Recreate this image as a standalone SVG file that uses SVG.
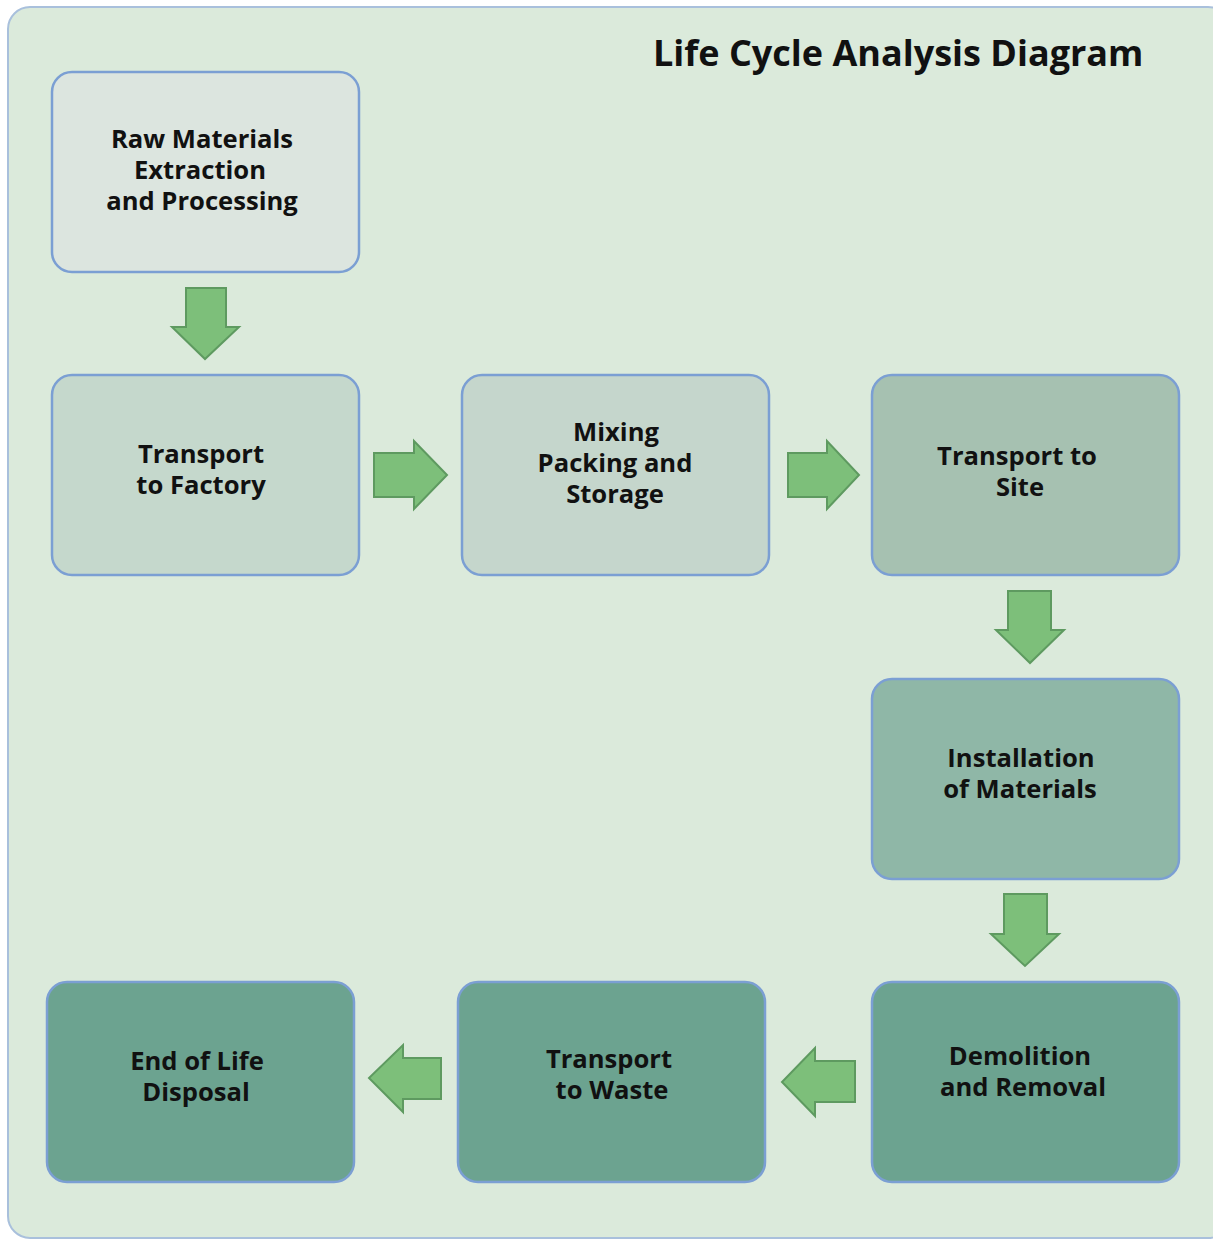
<svg xmlns="http://www.w3.org/2000/svg" width="1213" height="1240" viewBox="0 0 1213 1240">
<style>
.node rect{stroke:#7b9fd3;stroke-width:2.5}
.lbl{font-family:"Open Sans","Liberation Sans",sans-serif;font-weight:700;font-size:25.6px;fill:#111;text-anchor:middle}
.title{font-family:"Open Sans","Liberation Sans",sans-serif;font-weight:700;font-size:36px;fill:#111}
.arr{fill:#7dbf7a;stroke:#5e9a60;stroke-width:2;stroke-linejoin:miter}
</style>
<rect x="8" y="7" width="1222" height="1231" rx="22" fill="#dbeadb" stroke="#a9c0dc" stroke-width="2"/>
<text class="title" x="653" y="66">Life Cycle Analysis Diagram</text>
<g id="raw" class="node"><rect x="52" y="72" width="307" height="200" rx="20" fill="#dce5df"/>
<text class="lbl" x="202" y="148">Raw Materials</text><text class="lbl" x="200" y="179">Extraction</text><text class="lbl" x="202" y="210">and Processing</text></g>
<g id="tfactory" class="node"><rect x="52" y="375" width="307" height="200" rx="20" fill="#c5d8cc"/>
<text class="lbl" x="201" y="463">Transport</text><text class="lbl" x="201" y="494">to Factory</text></g>
<g id="mixing" class="node"><rect x="462" y="375" width="307" height="200" rx="20" fill="#c5d6cc"/>
<text class="lbl" x="616" y="441">Mixing</text><text class="lbl" x="615" y="472">Packing and</text><text class="lbl" x="615" y="503">Storage</text></g>
<g id="tsite" class="node"><rect x="872" y="375" width="307" height="200" rx="20" fill="#a6c1b1"/>
<text class="lbl" x="1017" y="465">Transport to</text><text class="lbl" x="1020" y="496">Site</text></g>
<g id="install" class="node"><rect x="872" y="679" width="307" height="200" rx="20" fill="#8fb7a7"/>
<text class="lbl" x="1021" y="767">Installation</text><text class="lbl" x="1020" y="798">of Materials</text></g>
<g id="demol" class="node"><rect x="872" y="982" width="307" height="200" rx="20" fill="#6ca390"/>
<text class="lbl" x="1020" y="1065">Demolition</text><text class="lbl" x="1023" y="1096">and Removal</text></g>
<g id="twaste" class="node"><rect x="458" y="982" width="307" height="200" rx="20" fill="#6ca390"/>
<text class="lbl" x="609" y="1068">Transport</text><text class="lbl" x="612" y="1099">to Waste</text></g>
<g id="eol" class="node"><rect x="47" y="982" width="307" height="200" rx="20" fill="#6ca390"/>
<text class="lbl" x="197" y="1070">End of Life</text><text class="lbl" x="196" y="1101">Disposal</text></g>
<g id="connectors">
<polygon class="arr" points="186,288 226,288 226,327 239,327 205,359 172,327 186,327"/>
<polygon class="arr" points="374,453 414,453 414,441 447,475 414,509 414,497 374,497"/>
<polygon class="arr" points="788,453 827,453 827,441 859,475 827,509 827,497 788,497"/>
<polygon class="arr" points="1008,591 1051,591 1051,630 1064,630 1030,663 996,630 1008,630"/>
<polygon class="arr" points="1004,894 1047,894 1047,934 1059,934 1025,966 991,934 1004,934"/>
<polygon class="arr" points="441,1058 403,1058 403,1045 369,1078 403,1112 403,1099 441,1099"/>
<polygon class="arr" points="855,1061 815,1061 815,1048 782,1082 815,1116 815,1102 855,1102"/>
</g>
</svg>
